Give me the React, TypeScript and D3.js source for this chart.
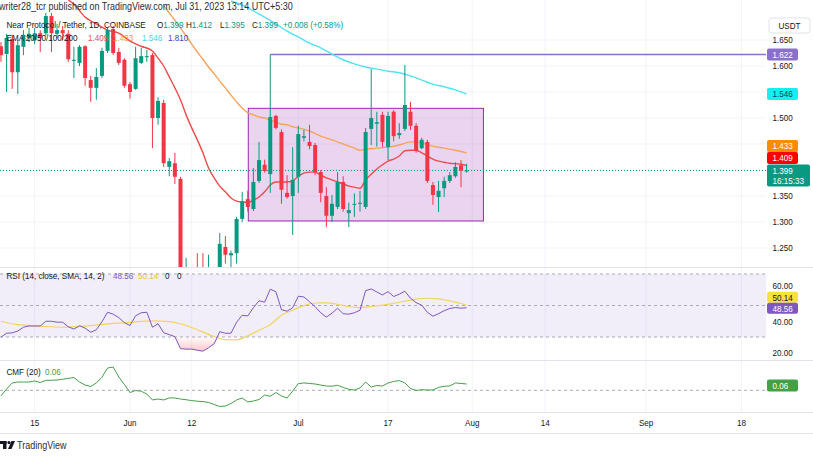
import React from 'react';
import * as d3 from 'd3';

// ---------- DATA ----------
const START_DAY = '2023-05-09'; // first candle, one candle per day
// [open, high, low, close]
const candleOHLC: [number, number, number, number][] = [
  [1.638, 1.646, 1.608, 1.621], [1.623, 1.662, 1.550, 1.654], [1.652, 1.660, 1.556, 1.588], [1.588, 1.650, 1.546, 1.640],
  [1.637, 1.669, 1.621, 1.660], [1.654, 1.673, 1.646, 1.662], [1.650, 1.673, 1.642, 1.663], [1.663, 1.669, 1.627, 1.654],
  [1.663, 1.702, 1.658, 1.696], [1.696, 1.702, 1.627, 1.663], [1.662, 1.681, 1.654, 1.669], [1.669, 1.677, 1.650, 1.663],
  [1.662, 1.669, 1.608, 1.613], [1.610, 1.637, 1.577, 1.612], [1.606, 1.640, 1.600, 1.637], [1.638, 1.640, 1.562, 1.577],
  [1.573, 1.581, 1.531, 1.558], [1.558, 1.596, 1.535, 1.579], [1.581, 1.635, 1.577, 1.629], [1.629, 1.673, 1.625, 1.669],
  [1.671, 1.677, 1.621, 1.625], [1.627, 1.635, 1.602, 1.606], [1.612, 1.615, 1.558, 1.562], [1.565, 1.569, 1.537, 1.550],
  [1.556, 1.637, 1.554, 1.615], [1.606, 1.635, 1.604, 1.619], [1.617, 1.631, 1.608, 1.619], [1.621, 1.625, 1.442, 1.500],
  [1.500, 1.540, 1.487, 1.533], [1.529, 1.535, 1.406, 1.413], [1.406, 1.423, 1.388, 1.417], [1.413, 1.433, 1.373, 1.387],
  [1.383, 1.387, 1.130, 1.190], [1.190, 1.231, 1.160, 1.200], [1.200, 1.205, 1.160, 1.180], [1.180, 1.240, 1.150, 1.170],
  [1.170, 1.240, 1.140, 1.160], [1.160, 1.237, 1.140, 1.190], [1.190, 1.208, 1.170, 1.200], [1.200, 1.279, 1.190, 1.258],
  [1.252, 1.273, 1.220, 1.237], [1.236, 1.245, 1.210, 1.240], [1.240, 1.310, 1.220, 1.306], [1.306, 1.358, 1.300, 1.340],
  [1.344, 1.360, 1.320, 1.329], [1.325, 1.404, 1.321, 1.377], [1.379, 1.454, 1.375, 1.419], [1.410, 1.420, 1.395, 1.398],
  [1.392, 1.622, 1.356, 1.502], [1.504, 1.506, 1.478, 1.481], [1.473, 1.478, 1.335, 1.362], [1.356, 1.390, 1.345, 1.348],
  [1.350, 1.444, 1.275, 1.381], [1.387, 1.485, 1.356, 1.469], [1.462, 1.477, 1.455, 1.465], [1.454, 1.487, 1.440, 1.446],
  [1.448, 1.452, 1.390, 1.396], [1.396, 1.400, 1.338, 1.356], [1.350, 1.367, 1.290, 1.312], [1.312, 1.352, 1.300, 1.335],
  [1.329, 1.396, 1.325, 1.377], [1.377, 1.388, 1.320, 1.325], [1.317, 1.337, 1.290, 1.323], [1.333, 1.355, 1.310, 1.335],
  [1.335, 1.360, 1.320, 1.337], [1.329, 1.481, 1.325, 1.473], [1.479, 1.594, 1.448, 1.500], [1.489, 1.512, 1.445, 1.492],
  [1.506, 1.512, 1.444, 1.454], [1.444, 1.512, 1.419, 1.504], [1.512, 1.515, 1.455, 1.465], [1.467, 1.490, 1.460, 1.471],
  [1.479, 1.602, 1.475, 1.525], [1.512, 1.531, 1.477, 1.485], [1.485, 1.490, 1.433, 1.437], [1.442, 1.462, 1.440, 1.458],
  [1.454, 1.458, 1.375, 1.379], [1.371, 1.377, 1.333, 1.352], [1.348, 1.379, 1.319, 1.360], [1.365, 1.387, 1.348, 1.379],
  [1.379, 1.396, 1.375, 1.390], [1.388, 1.415, 1.385, 1.406], [1.409, 1.419, 1.367, 1.399], [1.399, 1.412, 1.395, 1.399],
];

const rsiValues: number[] = [
  29.9, 32.4, 32.6, 33.8, 36.2, 37.0, 37.0, 37.0, 40.0, 40.0, 39.4, 39.4, 36.5, 35.0, 37.2, 35.6, 33.0, 34.6, 39.7, 45.7,
  44.5, 42.3, 39.1, 37.3, 43.5, 45.4, 45.7, 36.2, 38.4, 32.7, 31.5, 30.2, 22.6, 22.3, 22.3, 21.6, 21.0, 23.2, 25.7, 33.4,
  32.4, 32.4, 39.4, 43.8, 43.4, 48.6, 53.0, 52.1, 60.3, 58.8, 47.3, 46.4, 48.6, 55.9, 55.4, 52.4, 49.2, 45.4, 42.6, 45.1,
  48.3, 44.8, 44.5, 45.4, 47.0, 59.4, 60.5, 58.6, 56.7, 58.8, 55.7, 57.2, 59.1, 54.6, 51.8, 50.2, 45.7, 43.2, 44.8, 46.7,
  48.1, 48.7, 48.3, 48.56,
];

const rsiMA: [string, number][] = [
  ['2023-05-09', 40.0], ['2023-05-12', 37.8], ['2023-05-16', 36.9], ['2023-05-20', 36.2], ['2023-05-24', 36.9],
  ['2023-05-28', 38.3], ['2023-06-01', 39.3], ['2023-06-05', 40.3], ['2023-06-08', 39.8], ['2023-06-10', 38.4],
  ['2023-06-13', 34.6], ['2023-06-16', 30.3], ['2023-06-18', 28.3], ['2023-06-20', 28.2], ['2023-06-22', 30.8],
  ['2023-06-24', 34.3], ['2023-06-26', 37.8], ['2023-06-28', 43.8], ['2023-06-30', 47.0], ['2023-07-02', 49.9],
  ['2023-07-04', 51.6], ['2023-07-06', 51.7], ['2023-07-08', 50.8], ['2023-07-10', 49.2], ['2023-07-12', 48.7],
  ['2023-07-14', 49.4], ['2023-07-16', 50.2], ['2023-07-18', 51.3], ['2023-07-20', 52.7], ['2023-07-22', 54.1],
  ['2023-07-24', 54.6], ['2023-07-26', 54.2], ['2023-07-28', 52.9], ['2023-07-30', 51.3], ['2023-07-31', 50.14],
];

const cmfValues: number[] = [
  -0.054, 0.012, 0.070, 0.079, 0.079, 0.079, 0.089, 0.074, 0.095, 0.096, 0.098, 0.105, 0.114, 0.122, 0.079, 0.050,
  0.036, 0.070, 0.124, 0.212, 0.222, 0.127, 0.055, -0.021, -0.002, -0.009, -0.035, -0.092, -0.083, -0.092, -0.073,
  -0.073, -0.083, -0.090, -0.098, -0.104, -0.107, -0.116, -0.135, -0.154, -0.150, -0.126, -0.092, -0.073, -0.111,
  -0.102, -0.088, -0.045, -0.057, -0.021, -0.054, -0.073, -0.007, 0.063, 0.070, 0.065, 0.060, 0.050, 0.041, 0.039,
  0.048, 0.027, 0.009, 0.003, 0.022, 0.079, 0.031, 0.046, 0.041, 0.070, 0.084, 0.093, 0.070, 0.017, -0.002, 0.006,
  0.003, 0.003, 0.027, 0.038, 0.041, 0.070, 0.065, 0.06,
];

const ema20: [string, number][] = [
  ['2023-05-21', 1.727], ['2023-05-22', 1.719], ['2023-05-24', 1.694], ['2023-05-26', 1.681], ['2023-05-28', 1.669],
  ['2023-05-30', 1.663], ['2023-06-01', 1.648], ['2023-06-03', 1.638], ['2023-06-05', 1.629], ['2023-06-06', 1.615],
  ['2023-06-07', 1.600], ['2023-06-08', 1.579], ['2023-06-09', 1.558], ['2023-06-10', 1.535], ['2023-06-11', 1.506],
  ['2023-06-12', 1.481], ['2023-06-13', 1.458], ['2023-06-14', 1.433], ['2023-06-15', 1.404], ['2023-06-16', 1.385],
  ['2023-06-17', 1.369], ['2023-06-18', 1.358], ['2023-06-19', 1.346], ['2023-06-20', 1.340], ['2023-06-21', 1.338],
  ['2023-06-22', 1.338], ['2023-06-23', 1.342], ['2023-06-24', 1.348], ['2023-06-25', 1.358], ['2023-06-26', 1.371],
  ['2023-06-27', 1.377], ['2023-06-28', 1.377], ['2023-06-29', 1.377], ['2023-06-30', 1.379], ['2023-07-01', 1.388],
  ['2023-07-02', 1.394], ['2023-07-03', 1.396], ['2023-07-04', 1.396], ['2023-07-05', 1.390], ['2023-07-06', 1.385],
  ['2023-07-07', 1.381], ['2023-07-08', 1.377], ['2023-07-09', 1.373], ['2023-07-10', 1.369], ['2023-07-11', 1.367],
  ['2023-07-12', 1.365], ['2023-07-13', 1.381], ['2023-07-14', 1.392], ['2023-07-15', 1.402], ['2023-07-16', 1.410],
  ['2023-07-17', 1.417], ['2023-07-18', 1.421], ['2023-07-19', 1.427], ['2023-07-20', 1.437], ['2023-07-21', 1.438],
  ['2023-07-22', 1.438], ['2023-07-23', 1.433], ['2023-07-24', 1.427], ['2023-07-25', 1.421], ['2023-07-26', 1.417],
  ['2023-07-27', 1.415], ['2023-07-28', 1.413], ['2023-07-29', 1.412], ['2023-07-30', 1.411], ['2023-07-31', 1.409],
];

const ema50: [string, number][] = [
  ['2023-06-07', 1.716], ['2023-06-08', 1.702], ['2023-06-09', 1.688], ['2023-06-10', 1.673], ['2023-06-11', 1.658],
  ['2023-06-12', 1.642], ['2023-06-13', 1.627], ['2023-06-14', 1.613], ['2023-06-15', 1.598], ['2023-06-16', 1.585],
  ['2023-06-17', 1.571], ['2023-06-18', 1.558], ['2023-06-19', 1.544], ['2023-06-20', 1.531], ['2023-06-21', 1.519],
  ['2023-06-22', 1.510], ['2023-06-23', 1.506], ['2023-06-24', 1.502], ['2023-06-25', 1.500], ['2023-06-26', 1.496],
  ['2023-06-27', 1.492], ['2023-06-28', 1.488], ['2023-06-29', 1.487], ['2023-06-30', 1.483], ['2023-07-01', 1.481],
  ['2023-07-03', 1.475], ['2023-07-05', 1.465], ['2023-07-07', 1.458], ['2023-07-09', 1.450], ['2023-07-11', 1.442],
  ['2023-07-12', 1.438], ['2023-07-13', 1.440], ['2023-07-15', 1.442], ['2023-07-17', 1.444], ['2023-07-19', 1.448],
  ['2023-07-21', 1.454], ['2023-07-22', 1.454], ['2023-07-23', 1.452], ['2023-07-25', 1.446], ['2023-07-27', 1.442],
  ['2023-07-29', 1.438], ['2023-07-31', 1.433],
];

const ema100: [string, number][] = [
  ['2023-06-19', 1.725], ['2023-06-21', 1.717], ['2023-06-23', 1.706], ['2023-06-25', 1.694], ['2023-06-27', 1.681],
  ['2023-06-29', 1.667], ['2023-07-01', 1.656], ['2023-07-03', 1.644], ['2023-07-05', 1.635], ['2023-07-07', 1.623],
  ['2023-07-09', 1.612], ['2023-07-11', 1.604], ['2023-07-13', 1.598], ['2023-07-15', 1.594], ['2023-07-17', 1.590],
  ['2023-07-19', 1.587], ['2023-07-21', 1.581], ['2023-07-23', 1.573], ['2023-07-25', 1.565], ['2023-07-27', 1.560],
  ['2023-07-29', 1.554], ['2023-07-31', 1.546],
];

const rangeBox = { from: '2023-06-22T02:00:00Z', to: '2023-08-03T00:00:00Z', top: 1.5186, bottom: 1.302 };
const hLine = { from: '2023-06-26', price: 1.622 };
const lastPrice = 1.399;
const lastEma = { e20: 1.409, e50: 1.433, e100: 1.546, e200: 1.810 };
const lastRsi = 48.56, lastRsiMA = 50.14, lastCmf = 0.06;

const priceTicks = [1.25, 1.3, 1.35, 1.4, 1.45, 1.5, 1.55, 1.6, 1.65];
const rsiTicks = [20, 40, 60];
const timeTicks: [string, string][] = [
  ['2023-05-15', '15'], ['2023-06-01', 'Jun'], ['2023-06-12', '12'], ['2023-07-01', 'Jul'], ['2023-07-17', '17'],
  ['2023-08-01', 'Aug'], ['2023-08-14', '14'], ['2023-09-01', 'Sep'], ['2023-09-18', '18'],
];

// ---------- COLORS ----------
const UP = '#089981', DOWN = '#f23645';
const C_EMA20 = '#ef4b4b', C_EMA50 = '#f7a35c', C_EMA100 = '#52e3f0', C_EMA200 = '#4a3ccf';
const C_RSI = '#7e57c2', C_RSIMA = '#f2d45c', C_CMF = '#43a047';
const GRID = '#f0f3fa', SEP = '#e0e3eb', TXT = '#131722';

const PLOT_R = 766;
const MAIN = { top: 0, bottom: 267 };
const RSI_P = { top: 268, bottom: 360 };
const CMF_P = { top: 361, bottom: 412 };

const FONT = "'Liberation Sans', Arial, sans-serif";

function T(props: { x: number; y: number; children: any; fill?: string; size?: number; anchor?: string }) {
  const { x, y, children, fill = TXT, size = 9, anchor = 'start' } = props;
  return (
    <text transform={`translate(${x},${y}) scale(0.9,1)`} fontSize={size} fill={fill} textAnchor={anchor as any}>
      {children}
    </text>
  );
}

function Tag(props: { cy: number; bg: string; fg: string; text: string; w?: number; h?: number }) {
  const { cy, bg, fg, text, w = 31, h = 12 } = props;
  return (
    <g>
      <rect x={767} y={cy - h / 2} width={w} height={h} rx={2} fill={bg} />
      <T x={772.5} y={cy + 3.3} fill={fg}>{text}</T>
    </g>
  );
}

const parse = (s: string) => new Date(s.length > 10 ? s : s + 'T00:00:00Z');

export default function App() {
  const x = d3.scaleUtc().domain([parse('2023-07-01'), parse('2023-08-01')]).range([298.3, 298.3 + 31 * 5.61]);
  const y = d3.scaleLinear().domain([1.25, 1.65]).range([248, 40]);
  const yR = d3.scaleLinear().domain([30, 70]).range([337, 274]);
  const yC = d3.scaleLinear().domain([0, 0.06]).range([390.3, 384]);

  const start = parse(START_DAY);
  const days = candleOHLC.map((_, i) => d3.utcDay.offset(start, i));

  const emaLine = d3.line<[string, number]>().x(d => x(parse(d[0]))).y(d => y(d[1])).curve(d3.curveMonotoneX);
  const rsiLine = d3.line<number>().x((_, i) => x(days[i])).y(v => yR(v));
  const rsiMALine = d3.line<[string, number]>().x(d => x(parse(d[0]))).y(d => yR(d[1])).curve(d3.curveMonotoneX);
  const rsiArea = d3.area<number>().x((_, i) => x(days[i])).y0(yR(30)).y1(v => yR(Math.min(v, 30)));
  const cmfLine = d3.line<number>().x((_, i) => x(days[i])).y(v => yC(v));

  const bw = 4;
  const lastY = y(lastPrice);

  // tag centres on the price scale (labels under them are hidden, as in TradingView)
  const priceTagCenters = [y(hLine.price), y(lastEma.e100), lastY - 24.5, lastY - 12.5, lastY, lastY + 8];
  const visiblePriceTicks = priceTicks.filter(t => priceTagCenters.every(c => Math.abs(y(t) - c) > 8));

  const rsiTagCy = yR(lastRsi) + 0.5;
  const rsiMATagCy = rsiTagCy - 11;
  const rsiMATagTop = rsiMATagCy - 5.5;
  const rsiLabelY = (t: number) => {
    const natural = yR(t) + 3.3;
    return yR(t) < rsiMATagCy && natural > rsiMATagTop - 3 ? rsiMATagTop - 3 : natural;
  };

  return (
    <svg width={813} height={458} style={{ position: 'absolute', left: 0, top: 0, background: '#fff' }} fontFamily={FONT}>
      <defs>
        <clipPath id="cMain"><rect x={0} y={MAIN.top} width={PLOT_R} height={MAIN.bottom - MAIN.top} /></clipPath>
        <clipPath id="cRsi"><rect x={0} y={RSI_P.top} width={PLOT_R} height={RSI_P.bottom - RSI_P.top} /></clipPath>
        <clipPath id="cCmf"><rect x={0} y={CMF_P.top} width={PLOT_R} height={CMF_P.bottom - CMF_P.top} /></clipPath>
        <linearGradient id="gOS" x1="0" x2="0" y1={yR(30)} y2={yR(20)} gradientUnits="userSpaceOnUse">
          <stop offset="0" stopColor="#f23645" stopOpacity={0.02} />
          <stop offset="1" stopColor="#f23645" stopOpacity={0.3} />
        </linearGradient>
      </defs>
      <rect x={0} y={0} width={813} height={458} fill="#fff" />

      {/* grid */}
      {timeTicks.map(([d]) => (
        <line key={'vg' + d} x1={x(parse(d))} x2={x(parse(d))} y1={0} y2={CMF_P.bottom} stroke={GRID} />
      ))}
      <g clipPath="url(#cMain)">
        {priceTicks.map(t => (
          <line key={'hg' + t} x1={0} x2={PLOT_R} y1={y(t)} y2={y(t)} stroke={GRID} />
        ))}
      </g>

      {/* pane separators */}
      <line x1={0} x2={813} y1={267.5} y2={267.5} stroke={SEP} />
      <line x1={0} x2={813} y1={360.5} y2={360.5} stroke={SEP} />
      <line x1={0} x2={813} y1={412.5} y2={412.5} stroke={SEP} />
      <line x1={0} x2={813} y1={433.5} y2={433.5} stroke={SEP} />

      {/* MAIN pane */}
      <g clipPath="url(#cMain)">
        <rect x={x(parse(rangeBox.from))} y={y(rangeBox.top)} width={x(parse(rangeBox.to)) - x(parse(rangeBox.from))}
          height={y(rangeBox.bottom) - y(rangeBox.top)} fill="rgba(156,39,176,0.2)" stroke="#9c27b0" strokeWidth={1} />
        <line x1={x(parse(hLine.from))} x2={PLOT_R} y1={y(hLine.price)} y2={y(hLine.price)} stroke="#8a6fcb" strokeWidth={1.5} />
        <path d={emaLine(ema100) || ''} fill="none" stroke={C_EMA100} strokeWidth={1.4} />
        <path d={emaLine(ema50) || ''} fill="none" stroke={C_EMA50} strokeWidth={1.4} />
        <path d={emaLine(ema20) || ''} fill="none" stroke={C_EMA20} strokeWidth={1.4} />
        <line x1={0} x2={PLOT_R} y1={lastY} y2={lastY} stroke={UP} strokeDasharray="1,2" strokeWidth={1} />
        {candleOHLC.map(([o, h, l, c], i) => {
          const cx = x(days[i]);
          const col = c >= o ? UP : DOWN;
          const top = y(Math.max(o, c));
          const hh = Math.max(1, Math.abs(y(o) - y(c)));
          return (
            <g key={'c' + i}>
              <line x1={cx} x2={cx} y1={y(h)} y2={y(l)} stroke={col} strokeWidth={1} />
              <rect x={cx - bw / 2} y={top} width={bw} height={hh} fill={col} />
            </g>
          );
        })}
      </g>

      {/* header text */}
      <T x={-1} y={10} size={10} fill="#2a2e39">writer28_tcr published on TradingView.com, Jul 31, 2023 13:14 UTC+5:30</T>
      <T x={6.5} y={28} fill={TXT}>Near Protocol / Tether, 1D, COINBASE</T>
      <T x={157} y={28}>O<tspan fill={UP}>1.399</tspan></T>
      <T x={186} y={28}>H<tspan fill={UP}>1.412</tspan></T>
      <T x={220} y={28}>L<tspan fill={UP}>1.395</tspan></T>
      <T x={252} y={28}>C<tspan fill={UP}>1.399</tspan></T>
      <T x={283} y={28} fill={UP}>+0.008 (+0.58%)</T>
      <T x={6.5} y={41}>EMA 20/50/100/200</T>
      <T x={88} y={41} fill={C_EMA20}>{lastEma.e20.toFixed(3)}</T>
      <T x={113} y={41} fill="#f59a3e">{lastEma.e50.toFixed(3)}</T>
      <T x={142} y={41} fill="#3fdbe8">{lastEma.e100.toFixed(3)}</T>
      <T x={168} y={41} fill={C_EMA200}>{lastEma.e200.toFixed(3)}</T>

      {/* RSI pane */}
      <rect x={0} y={yR(70)} width={PLOT_R} height={yR(30) - yR(70)} fill="rgba(126,87,194,0.1)" />
      {[70, 50, 30].map(v => (
        <line key={'rl' + v} x1={0} x2={PLOT_R} y1={yR(v)} y2={yR(v)} stroke="#9598a1" strokeDasharray="3,3" strokeWidth={0.8} />
      ))}
      <g clipPath="url(#cRsi)">
        <path d={rsiArea(rsiValues) || ''} fill="url(#gOS)" />
        <path d={rsiMALine(rsiMA) || ''} fill="none" stroke={C_RSIMA} strokeWidth={1.2} />
        <path d={rsiLine(rsiValues) || ''} fill="none" stroke={C_RSI} strokeWidth={1} />
      </g>
      <T x={6.5} y={278.5}>RSI (14, close, SMA, 14, 2)</T>
      <T x={113} y={278.5} fill={C_RSI}>{lastRsi.toFixed(2)}</T>
      <T x={138} y={278.5} fill="#e9c91e">{lastRsiMA.toFixed(2)}</T>
      <T x={165} y={278.5}>0</T>
      <T x={177} y={278.5}>0</T>

      {/* CMF pane */}
      <line x1={0} x2={PLOT_R} y1={yC(0)} y2={yC(0)} stroke="#9598a1" strokeDasharray="3,3" strokeWidth={0.8} />
      <g clipPath="url(#cCmf)">
        <path d={cmfLine(cmfValues) || ''} fill="none" stroke={C_CMF} strokeWidth={1} />
      </g>
      <T x={6.5} y={375}>CMF (20)</T>
      <T x={45} y={375} fill={C_CMF}>{lastCmf.toFixed(2)}</T>

      {/* right axis: price */}
      {visiblePriceTicks.map(t => (
        <T key={'pt' + t} x={772.5} y={y(t) + 3.3}>{t.toFixed(3)}</T>
      ))}
      <rect x={769} y={18} width={41} height={15} rx={3} fill="#fff" stroke={SEP} />
      <T x={789.5} y={28.5} anchor="middle">USDT</T>
      <Tag cy={y(hLine.price)} bg="#8a6fcb" fg="#fff" text={hLine.price.toFixed(3)} />
      <Tag cy={y(lastEma.e100)} bg="#14f0f0" fg="#0d3d5c" text={lastEma.e100.toFixed(3)} />
      <Tag cy={lastY - 6 - 6.5 - 12} bg="#fb8c00" fg="#fff" text={lastEma.e50.toFixed(3)} />
      <Tag cy={lastY - 6 - 6.5} bg="#ff0000" fg="#fff" text={lastEma.e20.toFixed(3)} />
      <rect x={767} y={lastY - 6} width={43} height={22} rx={2} fill={UP} />
      <T x={772.5} y={lastY + 3.3} fill="#fff">{lastPrice.toFixed(3)}</T>
      <T x={772.5} y={lastY + 13.5} fill="#fff">16:15:33</T>

      {/* right axis: RSI */}
      {rsiTicks.map(t => (
        <T key={'rt' + t} x={772.5} y={rsiLabelY(t)}>{t.toFixed(2)}</T>
      ))}
      <Tag cy={rsiMATagCy} h={11} bg="#f7e23b" fg={TXT} text={lastRsiMA.toFixed(2)} />
      <Tag cy={rsiTagCy} h={11} bg={C_RSI} fg="#fff" text={lastRsi.toFixed(2)} />

      {/* right axis: CMF */}
      <Tag cy={yC(lastCmf) + 1.5} bg={C_CMF} fg="#fff" text={lastCmf.toFixed(2)} />

      {/* time axis */}
      {timeTicks.map(([d, lab]) => (
        <T key={'tt' + d} x={x(parse(d))} y={426} anchor="middle">{lab}</T>
      ))}

      {/* footer logo */}
      <g fill="#131722">
        <rect x={0} y={441} width={6.5} height={3} />
        <rect x={3} y={441} width={3.5} height={8} />
        <circle cx={9} cy={442.6} r={1.6} />
        <path d="M8,449 L11.5,441 L15,441 L11.5,449 Z" />
      </g>
      <T x={17} y={449} size={10} fill="#2a2e39">TradingView</T>
    </svg>
  );
}
